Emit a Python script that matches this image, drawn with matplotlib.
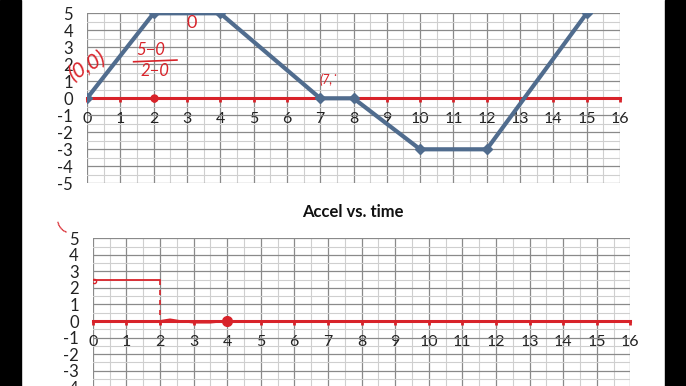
import matplotlib.pyplot as plt
from matplotlib.ticker import MultipleLocator

plt.rcParams['font.family'] = ['Lato', 'DejaVu Sans']
plt.rcParams['axes.unicode_minus'] = False

# position vs time (top chart)
t_pos = [0, 2, 4, 7, 8, 10, 12, 15]
x_pos = [0, 5, 5, 0, 0, -3, -3, 5]

# hand-drawn accel sketch (bottom chart)
t_acc = [0, 2]
a_acc = [2.5, 2.5]
t_drop = [2, 2]
a_drop = [2.5, 0.1]
t_flat = [2, 2.3, 2.6, 3.0, 3.5, 4.0]
a_flat = [0.0, 0.1, 0.0, -0.1, -0.1, 0.0]

x_ticks = list(range(0, 17))
y_ticks = list(range(-5, 6))

RED = '#D8232A'
BLUE = '#506C8E'


def style_axes(ax):
    ax.set_xlim(0, 16)
    ax.set_ylim(-5, 5)
    ax.xaxis.set_major_locator(MultipleLocator(1))
    ax.xaxis.set_minor_locator(MultipleLocator(0.5))
    ax.yaxis.set_major_locator(MultipleLocator(1))
    ax.yaxis.set_minor_locator(MultipleLocator(0.5))
    ax.grid(which='major', color='#8a8a8a', lw=0.9)
    ax.grid(which='minor', color='#cfcfcf', lw=0.8)
    ax.set_axisbelow(True)
    for s in ['top', 'right', 'left']:
        ax.spines[s].set_visible(False)
    ax.spines['bottom'].set_position(('data', 0))
    ax.spines['bottom'].set_color(RED)
    ax.spines['bottom'].set_linewidth(2.2)
    ax.spines['bottom'].set_zorder(3)
    ax.set_xticks(x_ticks)
    ax.set_yticks(y_ticks)
    ax.tick_params(axis='x', which='major', colors=RED, length=3, width=2,
                   pad=7, labelsize=11.5, labelcolor='#222222')
    ax.tick_params(axis='x', which='minor', length=0)
    ax.tick_params(axis='y', which='both', length=0, pad=10, labelsize=12,
                   labelcolor='#222222')


fig = plt.figure(figsize=(6.86, 3.86), dpi=100)
fig.patch.set_facecolor('white')

# black side bars
fig.add_artist(plt.Rectangle((0, 0), 21 / 686, 1, transform=fig.transFigure,
                             color='black', zorder=10))
fig.add_artist(plt.Rectangle((665 / 686, 0), 21 / 686, 1, transform=fig.transFigure,
                             color='black', zorder=10))

ax1 = fig.add_axes([87 / 686, 1 - 183.3 / 386, 533 / 686, 170 / 386])
style_axes(ax1)
ax1.plot(t_pos, x_pos, color=BLUE, lw=3, marker='D', ms=5.5, zorder=4)

# handwritten notes
ax1.text(0.0, 1.9, '(0,0)', color=RED, fontsize=15, rotation=30,
         ha='center', va='center', style='italic', zorder=5)
ax1.text(1.9, 2.85, '5−0', color=RED, fontsize=12, ha='center', va='center',
         style='italic', zorder=5)
ax1.plot([1.4, 2.7], [2.15, 2.25], color=RED, lw=1.2, zorder=5)
ax1.text(2.05, 1.6, '2−0', color=RED, fontsize=12, ha='center', va='center',
         style='italic', zorder=5)
ax1.text(3.15, 4.4, '0', color=RED, fontsize=13, ha='center', va='center',
         zorder=5)
ax1.text(7.25, 1.1, '(7,˙', color=RED, fontsize=9, ha='center', va='center',
         style='italic', zorder=5)
ax1.plot([2], [0], marker='o', ms=5, color=RED, zorder=5)

ax2 = fig.add_axes([92.7 / 686, 1 - 403.7 / 386, 537.6 / 686, 165.4 / 386])
style_axes(ax2)
fig.text(353 / 686, 1 - 212.5 / 386, 'Accel vs. time', ha='center', va='center',
         fontsize=12, fontweight='bold', color='#111111')

ax2.plot(t_acc, a_acc, color=RED, lw=1.3, zorder=5)
ax2.plot(t_drop, a_drop, color=RED, lw=1.2, ls=(0, (3, 3)), zorder=5)
ax2.plot(t_flat, a_flat, color=RED, lw=1.3, zorder=5)
ax2.plot([4], [0], marker='o', ms=7, color=RED, zorder=5)
ax2.plot([0.05], [2.4], marker='o', ms=3, mfc='none', mec=RED, zorder=5)

fig.text(62 / 686, 1 - 228 / 386, '(', color=RED, fontsize=11, ha='center',
         va='center', rotation=40)

fig.savefig('out.png', dpi=100)
